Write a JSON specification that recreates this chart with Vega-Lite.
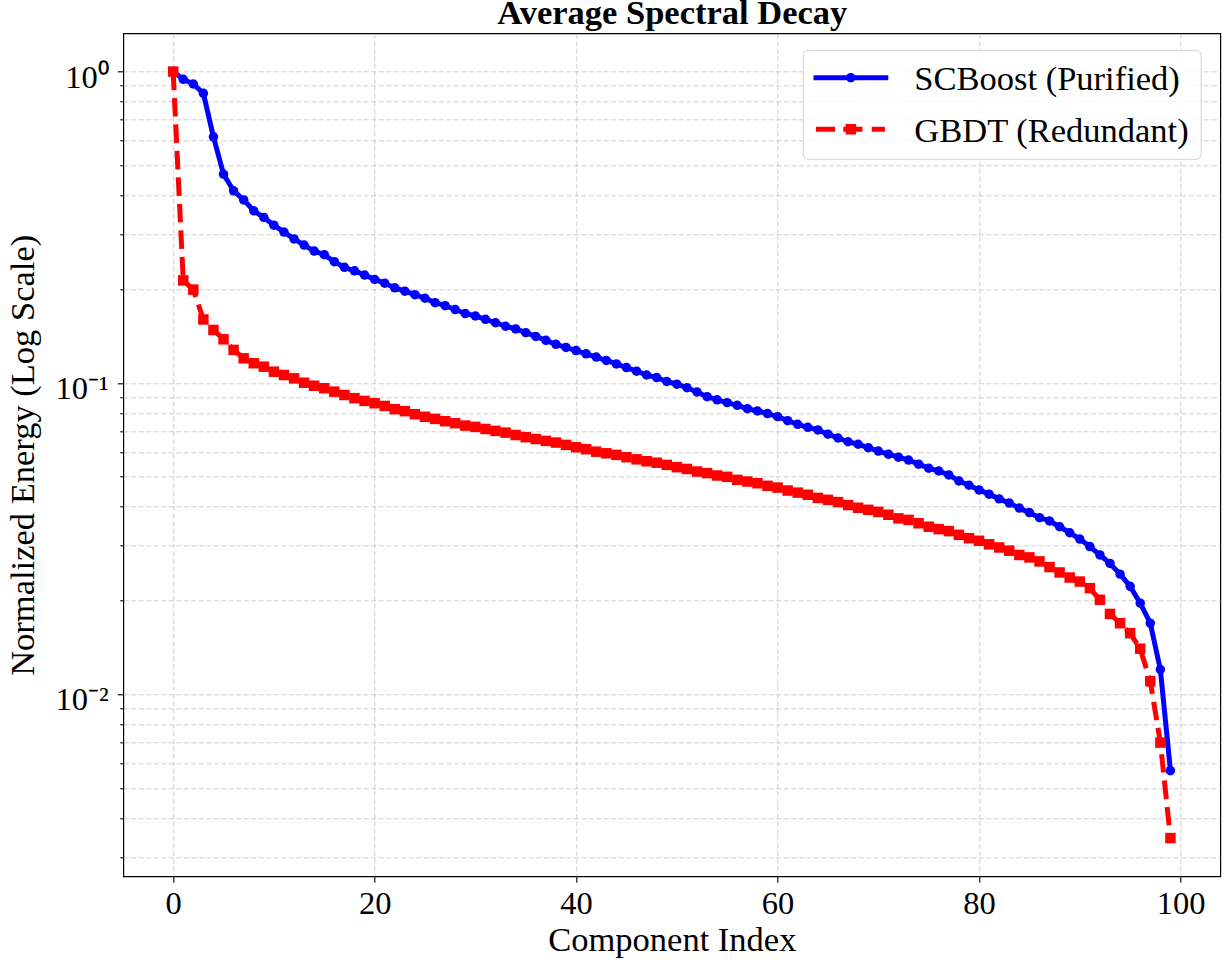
{
  "$schema": "https://vega.github.io/schema/vega-lite/v6.json",
  "width": 1097,
  "height": 843,
  "autosize": {"type": "none"},
  "padding": {"left": 123.3, "top": 33.3, "right": 7.7, "bottom": 84.7},
  "background": "white",
  "config": {
    "view": {"stroke": "black", "strokeWidth": 1.2},
    "axis": {
      "labelFont": "Liberation Serif",
      "titleFont": "Liberation Serif",
      "labelColor": "black",
      "titleColor": "black",
      "tickColor": "black",
      "tickWidth": 1.1,
      "domain": false,
      "gridColor": "#b0b0b0",
      "gridOpacity": 0.6,
      "gridDash": [5, 2.5],
      "gridWidth": 1,
      "titleFontWeight": "normal",
      "titleFontSize": 34.5,
      "labelFontSize": 32.5
    }
  },
  "data": {
    "values": [
      {"i":0,"v":1.0,"s":"SCBoost (Purified)"},{"i":1,"v":0.944,"s":"SCBoost (Purified)"},{"i":2,"v":0.912,"s":"SCBoost (Purified)"},{"i":3,"v":0.851,"s":"SCBoost (Purified)"},{"i":4,"v":0.617,"s":"SCBoost (Purified)"},{"i":5,"v":0.468,"s":"SCBoost (Purified)"},{"i":6,"v":0.414,"s":"SCBoost (Purified)"},{"i":7,"v":0.387,"s":"SCBoost (Purified)"},{"i":8,"v":0.357,"s":"SCBoost (Purified)"},{"i":9,"v":0.340,"s":"SCBoost (Purified)"},
      {"i":10,"v":0.321,"s":"SCBoost (Purified)"},{"i":11,"v":0.305,"s":"SCBoost (Purified)"},{"i":12,"v":0.290,"s":"SCBoost (Purified)"},{"i":13,"v":0.277,"s":"SCBoost (Purified)"},{"i":14,"v":0.265,"s":"SCBoost (Purified)"},{"i":15,"v":0.258,"s":"SCBoost (Purified)"},{"i":16,"v":0.245,"s":"SCBoost (Purified)"},{"i":17,"v":0.235,"s":"SCBoost (Purified)"},{"i":18,"v":0.229,"s":"SCBoost (Purified)"},{"i":19,"v":0.222,"s":"SCBoost (Purified)"},
      {"i":20,"v":0.215,"s":"SCBoost (Purified)"},{"i":21,"v":0.209,"s":"SCBoost (Purified)"},{"i":22,"v":0.202,"s":"SCBoost (Purified)"},{"i":23,"v":0.197,"s":"SCBoost (Purified)"},{"i":24,"v":0.192,"s":"SCBoost (Purified)"},{"i":25,"v":0.187,"s":"SCBoost (Purified)"},{"i":26,"v":0.181,"s":"SCBoost (Purified)"},{"i":27,"v":0.177,"s":"SCBoost (Purified)"},{"i":28,"v":0.172,"s":"SCBoost (Purified)"},{"i":29,"v":0.167,"s":"SCBoost (Purified)"},
      {"i":30,"v":0.164,"s":"SCBoost (Purified)"},{"i":31,"v":0.160,"s":"SCBoost (Purified)"},{"i":32,"v":0.156,"s":"SCBoost (Purified)"},{"i":33,"v":0.152,"s":"SCBoost (Purified)"},{"i":34,"v":0.149,"s":"SCBoost (Purified)"},{"i":35,"v":0.145,"s":"SCBoost (Purified)"},{"i":36,"v":0.141,"s":"SCBoost (Purified)"},{"i":37,"v":0.137,"s":"SCBoost (Purified)"},{"i":38,"v":0.133,"s":"SCBoost (Purified)"},{"i":39,"v":0.130,"s":"SCBoost (Purified)"},
      {"i":40,"v":0.127,"s":"SCBoost (Purified)"},{"i":41,"v":0.124,"s":"SCBoost (Purified)"},{"i":42,"v":0.121,"s":"SCBoost (Purified)"},{"i":43,"v":0.118,"s":"SCBoost (Purified)"},{"i":44,"v":0.115,"s":"SCBoost (Purified)"},{"i":45,"v":0.112,"s":"SCBoost (Purified)"},{"i":46,"v":0.109,"s":"SCBoost (Purified)"},{"i":47,"v":0.106,"s":"SCBoost (Purified)"},{"i":48,"v":0.104,"s":"SCBoost (Purified)"},{"i":49,"v":0.101,"s":"SCBoost (Purified)"},
      {"i":50,"v":0.0990,"s":"SCBoost (Purified)"},{"i":51,"v":0.0965,"s":"SCBoost (Purified)"},{"i":52,"v":0.0935,"s":"SCBoost (Purified)"},{"i":53,"v":0.0903,"s":"SCBoost (Purified)"},{"i":54,"v":0.0882,"s":"SCBoost (Purified)"},{"i":55,"v":0.0864,"s":"SCBoost (Purified)"},{"i":56,"v":0.0847,"s":"SCBoost (Purified)"},{"i":57,"v":0.0826,"s":"SCBoost (Purified)"},{"i":58,"v":0.0812,"s":"SCBoost (Purified)"},{"i":59,"v":0.0797,"s":"SCBoost (Purified)"},
      {"i":60,"v":0.0779,"s":"SCBoost (Purified)"},{"i":61,"v":0.0756,"s":"SCBoost (Purified)"},{"i":62,"v":0.0736,"s":"SCBoost (Purified)"},{"i":63,"v":0.0720,"s":"SCBoost (Purified)"},{"i":64,"v":0.0706,"s":"SCBoost (Purified)"},{"i":65,"v":0.0684,"s":"SCBoost (Purified)"},{"i":66,"v":0.0665,"s":"SCBoost (Purified)"},{"i":67,"v":0.0647,"s":"SCBoost (Purified)"},{"i":68,"v":0.0635,"s":"SCBoost (Purified)"},{"i":69,"v":0.0619,"s":"SCBoost (Purified)"},
      {"i":70,"v":0.0604,"s":"SCBoost (Purified)"},{"i":71,"v":0.0590,"s":"SCBoost (Purified)"},{"i":72,"v":0.0577,"s":"SCBoost (Purified)"},{"i":73,"v":0.0565,"s":"SCBoost (Purified)"},{"i":74,"v":0.0548,"s":"SCBoost (Purified)"},{"i":75,"v":0.0532,"s":"SCBoost (Purified)"},{"i":76,"v":0.0521,"s":"SCBoost (Purified)"},{"i":77,"v":0.0506,"s":"SCBoost (Purified)"},{"i":78,"v":0.0484,"s":"SCBoost (Purified)"},{"i":79,"v":0.0469,"s":"SCBoost (Purified)"},
      {"i":80,"v":0.0453,"s":"SCBoost (Purified)"},{"i":81,"v":0.0439,"s":"SCBoost (Purified)"},{"i":82,"v":0.0424,"s":"SCBoost (Purified)"},{"i":83,"v":0.0411,"s":"SCBoost (Purified)"},{"i":84,"v":0.0396,"s":"SCBoost (Purified)"},{"i":85,"v":0.0383,"s":"SCBoost (Purified)"},{"i":86,"v":0.0369,"s":"SCBoost (Purified)"},{"i":87,"v":0.0360,"s":"SCBoost (Purified)"},{"i":88,"v":0.0345,"s":"SCBoost (Purified)"},{"i":89,"v":0.0330,"s":"SCBoost (Purified)"},
      {"i":90,"v":0.0315,"s":"SCBoost (Purified)"},{"i":91,"v":0.0298,"s":"SCBoost (Purified)"},{"i":92,"v":0.0280,"s":"SCBoost (Purified)"},{"i":93,"v":0.0263,"s":"SCBoost (Purified)"},{"i":94,"v":0.0243,"s":"SCBoost (Purified)"},{"i":95,"v":0.0222,"s":"SCBoost (Purified)"},{"i":96,"v":0.0196,"s":"SCBoost (Purified)"},{"i":97,"v":0.0169,"s":"SCBoost (Purified)"},{"i":98,"v":0.0120,"s":"SCBoost (Purified)"},{"i":99,"v":0.00568,"s":"SCBoost (Purified)"},
      {"i":0,"v":1.0,"s":"GBDT (Redundant)"},{"i":1,"v":0.2133,"s":"GBDT (Redundant)"},{"i":2,"v":0.1993,"s":"GBDT (Redundant)"},{"i":3,"v":0.1598,"s":"GBDT (Redundant)"},{"i":4,"v":0.1479,"s":"GBDT (Redundant)"},{"i":5,"v":0.1380,"s":"GBDT (Redundant)"},{"i":6,"v":0.1276,"s":"GBDT (Redundant)"},{"i":7,"v":0.1199,"s":"GBDT (Redundant)"},{"i":8,"v":0.1156,"s":"GBDT (Redundant)"},{"i":9,"v":0.1127,"s":"GBDT (Redundant)"},
      {"i":10,"v":0.1086,"s":"GBDT (Redundant)"},{"i":11,"v":0.1060,"s":"GBDT (Redundant)"},{"i":12,"v":0.1034,"s":"GBDT (Redundant)"},{"i":13,"v":0.1001,"s":"GBDT (Redundant)"},{"i":14,"v":0.0979,"s":"GBDT (Redundant)"},{"i":15,"v":0.0961,"s":"GBDT (Redundant)"},{"i":16,"v":0.0937,"s":"GBDT (Redundant)"},{"i":17,"v":0.0914,"s":"GBDT (Redundant)"},{"i":18,"v":0.0893,"s":"GBDT (Redundant)"},{"i":19,"v":0.0875,"s":"GBDT (Redundant)"},
      {"i":20,"v":0.0860,"s":"GBDT (Redundant)"},{"i":21,"v":0.0843,"s":"GBDT (Redundant)"},{"i":22,"v":0.0823,"s":"GBDT (Redundant)"},{"i":23,"v":0.0811,"s":"GBDT (Redundant)"},{"i":24,"v":0.0793,"s":"GBDT (Redundant)"},{"i":25,"v":0.0778,"s":"GBDT (Redundant)"},{"i":26,"v":0.0766,"s":"GBDT (Redundant)"},{"i":27,"v":0.0753,"s":"GBDT (Redundant)"},{"i":28,"v":0.0742,"s":"GBDT (Redundant)"},{"i":29,"v":0.0729,"s":"GBDT (Redundant)"},
      {"i":30,"v":0.0722,"s":"GBDT (Redundant)"},{"i":31,"v":0.0711,"s":"GBDT (Redundant)"},{"i":32,"v":0.0701,"s":"GBDT (Redundant)"},{"i":33,"v":0.0692,"s":"GBDT (Redundant)"},{"i":34,"v":0.0680,"s":"GBDT (Redundant)"},{"i":35,"v":0.0669,"s":"GBDT (Redundant)"},{"i":36,"v":0.0660,"s":"GBDT (Redundant)"},{"i":37,"v":0.0651,"s":"GBDT (Redundant)"},{"i":38,"v":0.0643,"s":"GBDT (Redundant)"},{"i":39,"v":0.0632,"s":"GBDT (Redundant)"},
      {"i":40,"v":0.0621,"s":"GBDT (Redundant)"},{"i":41,"v":0.0612,"s":"GBDT (Redundant)"},{"i":42,"v":0.0601,"s":"GBDT (Redundant)"},{"i":43,"v":0.0594,"s":"GBDT (Redundant)"},{"i":44,"v":0.0587,"s":"GBDT (Redundant)"},{"i":45,"v":0.0577,"s":"GBDT (Redundant)"},{"i":46,"v":0.0568,"s":"GBDT (Redundant)"},{"i":47,"v":0.0560,"s":"GBDT (Redundant)"},{"i":48,"v":0.0554,"s":"GBDT (Redundant)"},{"i":49,"v":0.0545,"s":"GBDT (Redundant)"},
      {"i":50,"v":0.0536,"s":"GBDT (Redundant)"},{"i":51,"v":0.0529,"s":"GBDT (Redundant)"},{"i":52,"v":0.0519,"s":"GBDT (Redundant)"},{"i":53,"v":0.0513,"s":"GBDT (Redundant)"},{"i":54,"v":0.0504,"s":"GBDT (Redundant)"},{"i":55,"v":0.0499,"s":"GBDT (Redundant)"},{"i":56,"v":0.0488,"s":"GBDT (Redundant)"},{"i":57,"v":0.0482,"s":"GBDT (Redundant)"},{"i":58,"v":0.0476,"s":"GBDT (Redundant)"},{"i":59,"v":0.0467,"s":"GBDT (Redundant)"},
      {"i":60,"v":0.0461,"s":"GBDT (Redundant)"},{"i":61,"v":0.0451,"s":"GBDT (Redundant)"},{"i":62,"v":0.0444,"s":"GBDT (Redundant)"},{"i":63,"v":0.0437,"s":"GBDT (Redundant)"},{"i":64,"v":0.0427,"s":"GBDT (Redundant)"},{"i":65,"v":0.0421,"s":"GBDT (Redundant)"},{"i":66,"v":0.0414,"s":"GBDT (Redundant)"},{"i":67,"v":0.0405,"s":"GBDT (Redundant)"},{"i":68,"v":0.0397,"s":"GBDT (Redundant)"},{"i":69,"v":0.0391,"s":"GBDT (Redundant)"},
      {"i":70,"v":0.0385,"s":"GBDT (Redundant)"},{"i":71,"v":0.0377,"s":"GBDT (Redundant)"},{"i":72,"v":0.0367,"s":"GBDT (Redundant)"},{"i":73,"v":0.0363,"s":"GBDT (Redundant)"},{"i":74,"v":0.0354,"s":"GBDT (Redundant)"},{"i":75,"v":0.0345,"s":"GBDT (Redundant)"},{"i":76,"v":0.0339,"s":"GBDT (Redundant)"},{"i":77,"v":0.0334,"s":"GBDT (Redundant)"},{"i":78,"v":0.0325,"s":"GBDT (Redundant)"},{"i":79,"v":0.0317,"s":"GBDT (Redundant)"},
      {"i":80,"v":0.0311,"s":"GBDT (Redundant)"},{"i":81,"v":0.0303,"s":"GBDT (Redundant)"},{"i":82,"v":0.0296,"s":"GBDT (Redundant)"},{"i":83,"v":0.0289,"s":"GBDT (Redundant)"},{"i":84,"v":0.0280,"s":"GBDT (Redundant)"},{"i":85,"v":0.0275,"s":"GBDT (Redundant)"},{"i":86,"v":0.0267,"s":"GBDT (Redundant)"},{"i":87,"v":0.0256,"s":"GBDT (Redundant)"},{"i":88,"v":0.0246,"s":"GBDT (Redundant)"},{"i":89,"v":0.0237,"s":"GBDT (Redundant)"},
      {"i":90,"v":0.0230,"s":"GBDT (Redundant)"},{"i":91,"v":0.0219,"s":"GBDT (Redundant)"},{"i":92,"v":0.0201,"s":"GBDT (Redundant)"},{"i":93,"v":0.0181,"s":"GBDT (Redundant)"},{"i":94,"v":0.0169,"s":"GBDT (Redundant)"},{"i":95,"v":0.0157,"s":"GBDT (Redundant)"},{"i":96,"v":0.0140,"s":"GBDT (Redundant)"},{"i":97,"v":0.0110,"s":"GBDT (Redundant)"},{"i":98,"v":0.00699,"s":"GBDT (Redundant)"},{"i":99,"v":0.00345,"s":"GBDT (Redundant)"}
    ]
  },
  "encoding": {
    "y": {
      "field": "v",
      "type": "quantitative",
      "scale": {"type": "log", "domain": [0.0026, 1.327], "nice": false},
      "axis": {
        "title": "Normalized Energy (Log Scale)",
        "grid": true,
        "values": [1, 0.9, 0.8, 0.7, 0.6, 0.5, 0.4, 0.3, 0.2, 0.1, 0.09, 0.08, 0.07, 0.06, 0.05, 0.04, 0.03, 0.02, 0.01, 0.009, 0.008, 0.007, 0.006, 0.005, 0.004, 0.003],
        "labelExpr": "datum.value == 1 ? '10⁰' : datum.value == 0.1 ? '10⁻¹' : datum.value == 0.01 ? '10⁻²' : ''",
        "tickSize": {"condition": {"test": "datum.value == 1 || datum.value == 0.1 || datum.value == 0.01", "value": 6}, "value": 3.5},
        "labelBaseline": "alphabetic",
        "labelOffset": 15.7,
        "labelPadding": 9,
        "labelFlush": false,
        "labelOverlap": false,
        "titleBaseline": "alphabetic",
        "titleX": -90.3,
        "titleY": 421.5,
        "titleAnchor": "middle"
      }
    },
    "color": {
      "field": "s",
      "type": "nominal",
      "sort": null,
      "scale": {"domain": ["SCBoost (Purified)", "GBDT (Redundant)"], "range": ["#0000ff", "#ff0000"]},
      "legend": {
        "title": null,
        "orient": "none",
        "legendX": 679.4,
        "legendY": 16.5,
        "symbolSize": 5625,
        "labelFont": "Liberation Serif",
        "labelFontSize": 34.5,
        "labelColor": "black",
        "labelLimit": 0,
        "labelOffset": 26,
        "padding": 10.6,
        "rowPadding": 14.5,
        "clipHeight": 34.5,
        "strokeColor": "#d0d0d0",
        "fillColor": "rgba(255,255,255,0.85)",
        "cornerRadius": 5,
        "encode": {
          "symbols": {
            "update": {
              "shape": {"signal": "datum.value === 'SCBoost (Purified)' ? 'M-1,-0.067H-0.1V0.067H-1Z M0.1,-0.067H1V0.067H0.1Z M-0.125,0A0.125,0.125,0,1,1,0.125,0A0.125,0.125,0,1,1,-0.125,0Z' : 'M-0.93,-0.067H-0.42V0.067H-0.93Z M-0.2,-0.067H0.31V0.067H-0.2Z M0.56,-0.067H0.91V0.067H0.56Z M-0.14,-0.14H0.14V0.14H-0.14Z'"},
              "size": {"value": 5625},
              "fill": {"signal": "datum.value === 'SCBoost (Purified)' ? '#0000ff' : '#ff0000'"},
              "stroke": {"value": "transparent"},
              "strokeWidth": {"value": 0},
              "strokeDash": {"value": [1, 0]},
              "opacity": {"value": 1},
              "fillOpacity": {"value": 1}
            }
          },
          "labels": {"update": {"dy": {"value": 2.5}}}
        }
      }
    }
  },
  "layer": [
    {
      "transform": [{"filter": "datum.s === 'SCBoost (Purified)'"}],
      "mark": {"type": "line", "strokeWidth": 5, "strokeJoin": "round"},
      "encoding": {
        "x": {
          "field": "i",
          "type": "quantitative",
          "scale": {"domain": [-4.95, 103.95], "nice": false, "zero": false},
          "axis": {
            "orient": "top",
            "title": "Average Spectral Decay",
            "labels": false,
            "ticks": false,
            "grid": false,
            "domain": false,
            "titleFontWeight": "bold",
            "titleFontSize": 34.5,
            "titleBaseline": "alphabetic",
            "titleX": 548.5,
            "titleY": -9.5,
            "titleAnchor": "middle"
          }
        }
      }
    },
    {
      "transform": [{"filter": "datum.s === 'SCBoost (Purified)'"}],
      "mark": {"type": "point", "shape": "circle", "filled": true, "size": 90, "opacity": 1, "strokeWidth": 0},
      "encoding": {
        "x": {
          "field": "i",
          "type": "quantitative",
          "scale": {"domain": [-4.95, 103.95], "nice": false, "zero": false},
          "axis": {
            "orient": "bottom",
            "title": "Component Index",
            "grid": true,
            "values": [0, 20, 40, 60, 80, 100],
            "tickSize": 6,
            "labelBaseline": "alphabetic",
            "labelPadding": 31,
            "labelFlush": false,
            "titleBaseline": "alphabetic",
            "titleX": 548.5,
            "titleY": 74.3,
            "titleAnchor": "middle"
          }
        }
      }
    },
    {
      "transform": [{"filter": "datum.s === 'GBDT (Redundant)'"}],
      "mark": {"type": "line", "strokeWidth": 5, "strokeDash": [18.5, 8]},
      "encoding": {
        "x": {
          "field": "i",
          "type": "quantitative",
          "scale": {"domain": [-4.95, 103.95], "nice": false, "zero": false},
          "axis": null
        }
      }
    },
    {
      "transform": [{"filter": "datum.s === 'GBDT (Redundant)'"}],
      "mark": {"type": "point", "shape": "square", "filled": true, "size": 110, "opacity": 1, "strokeWidth": 0},
      "encoding": {
        "x": {
          "field": "i",
          "type": "quantitative",
          "scale": {"domain": [-4.95, 103.95], "nice": false, "zero": false},
          "axis": null
        }
      }
    }
  ],
  "resolve": {"axis": {"x": "independent"}}
}
